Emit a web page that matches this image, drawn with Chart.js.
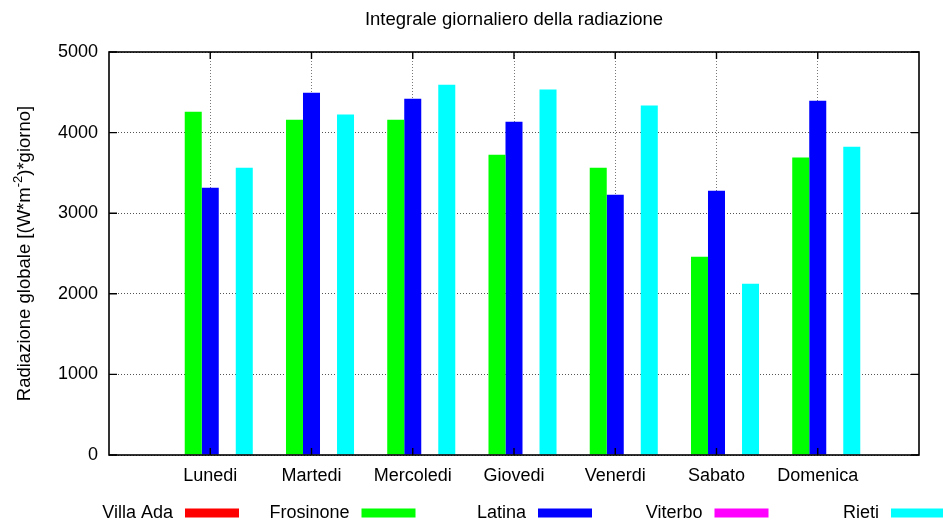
<!DOCTYPE html>
<html>
<head>
<meta charset="utf-8">
<script src="https://cdn.jsdelivr.net/npm/chart.js@4/dist/chart.umd.min.js"></script>
<style>
  html, body { margin: 0; padding: 0; background: #fff; }
  #wrap { width: 943px; height: 521px; }
</style>
</head>
<body>
<div id="wrap"><canvas id="myChart" width="943" height="521"></canvas></div>
<script>
const titolo = 'Integrale giornaliero della radiazione';
const giorni = ['Lunedi', 'Martedi', 'Mercoledi', 'Giovedi', 'Venerdi', 'Sabato', 'Domenica'];
const stazioni = ['Villa Ada', 'Frosinone', 'Latina', 'Viterbo', 'Rieti'];
const colori = ['#ff0000', '#00ff00', '#0000ff', '#ff00ff', '#00ffff'];

// valori (W*m^-2*giorno); Villa Ada e Viterbo senza dati
const villaAda = [null, null, null, null, null, null, null];
const frosinone = [4260, 4160, 4160, 3725, 3565, 2460, 3690];
const latina = [3317, 4495, 4420, 4135, 3230, 3280, 4395];
const viterbo = [null, null, null, null, null, null, null];
const rieti = [3565, 4225, 4595, 4535, 4335, 2125, 3825];

const yTicks = [0, 1000, 2000, 3000, 4000, 5000];

const font = '"Liberation Sans", Arial, Helvetica, sans-serif';

// asse x come in gnuplot: un posto vuoto prima e dopo i giorni
const pad = arr => [null, ...arr, null];
const labels = ['', ...giorni, ''];
const serie = [villaAda, frosinone, latina, viterbo, rieti];

const datasets = stazioni.map((nome, i) => ({
    label: nome,
    data: pad(serie[i]),
    backgroundColor: colori[i],
    borderWidth: 0,
    barPercentage: 1,
    categoryPercentage: 0.84,
}));

const gnuplotLook = {
    id: 'gnuplotLook',
    afterDraw(chart) {
        const { ctx, chartArea: a, scales: { x, y } } = chart;
        ctx.save();

        // cornice e tacche interne
        ctx.strokeStyle = '#000';
        ctx.lineWidth = 1.6;
        ctx.strokeRect(a.left, a.top, a.right - a.left, a.bottom - a.top);
        ctx.lineWidth = 1.4;
        ctx.beginPath();
        y.ticks.forEach(t => {
            const py = y.getPixelForValue(t.value);
            ctx.moveTo(a.left, py); ctx.lineTo(a.left + 8, py);
            ctx.moveTo(a.right, py); ctx.lineTo(a.right - 8, py);
        });
        x.ticks.forEach((t, i) => {
            if (!labels[i]) return;
            const px = x.getPixelForTick(i);
            ctx.moveTo(px, a.top); ctx.lineTo(px, a.top + 7);
            ctx.moveTo(px, a.bottom); ctx.lineTo(px, a.bottom - 7);
        });
        ctx.stroke();

        // titolo
        ctx.fillStyle = '#000';
        ctx.font = '18.5px ' + font;
        ctx.textAlign = 'center';
        ctx.textBaseline = 'middle';
        ctx.fillText(titolo, (a.left + a.right) / 2, 20);

        // etichetta asse y con esponente
        const p1 = 'Radiazione globale [(W*m';
        const sup = '-2';
        const p2 = ')*giorno]';
        ctx.save();
        ctx.translate(25, (a.top + a.bottom) / 2);
        ctx.rotate(-Math.PI / 2);
        ctx.textAlign = 'left';
        ctx.font = '18.5px ' + font;
        const w1 = ctx.measureText(p1).width;
        const w3 = ctx.measureText(p2).width;
        ctx.font = '13px ' + font;
        const w2 = ctx.measureText(sup).width;
        let cx = -(w1 + w2 + w3) / 2;
        ctx.font = '18.5px ' + font;
        ctx.fillText(p1, cx, 0);
        cx += w1;
        ctx.font = '13px ' + font;
        ctx.fillText(sup, cx, -7);
        cx += w2;
        ctx.font = '18.5px ' + font;
        ctx.fillText(p2, cx, 0);
        ctx.restore();

        // legenda in basso, testo a sinistra del campione
        ctx.font = '18px ' + font;
        ctx.textAlign = 'right';
        ctx.textBaseline = 'middle';
        chart.data.datasets.forEach((ds, i) => {
            const sx = 185 + i * 176.5;
            ctx.fillStyle = '#000';
            ctx.fillText(ds.label, sx - 12, 513);
            ctx.fillStyle = ds.backgroundColor;
            ctx.fillRect(sx, 508.5, 54, 9);
        });
        ctx.restore();
    }
};

const config = {
    type: 'bar',
    data: { labels: labels, datasets: datasets },
    options: {
        responsive: false,
        animation: false,
        layout: { padding: { top: 52, right: 24, left: 0, bottom: 0 } },
        scales: {
            x: {
                offset: false,
                grid: {
                    offset: false,
                    drawTicks: false,
                    lineWidth: 1,
                    color: ctx => (labels[ctx.index] ? '#777' : 'rgba(0,0,0,0)'),
                },
                border: { display: false, dash: [1, 2] },
                ticks: {
                    autoSkip: false,
                    maxRotation: 0,
                    padding: 10,
                    color: '#000',
                    font: { family: font, size: 18 },
                },
                afterFit: scale => { scale.height = 66; },
            },
            y: {
                min: 0,
                max: 5000,
                afterBuildTicks: scale => { scale.ticks = yTicks.map(v => ({ value: v })); },
                grid: { drawTicks: false, lineWidth: 1, color: '#555' },
                border: { display: false, dash: [1, 2] },
                ticks: {
                    padding: 11,
                    color: '#000',
                    font: { family: font, size: 18 },
                    callback: v => String(v),
                },
                afterFit: scale => { scale.width = 109; },
            },
        },
        plugins: {
            legend: { display: false },
            tooltip: { enabled: false },
        },
    },
    plugins: [gnuplotLook],
};

const myChart = new Chart(document.getElementById('myChart'), config);
</script>
</body>
</html>
